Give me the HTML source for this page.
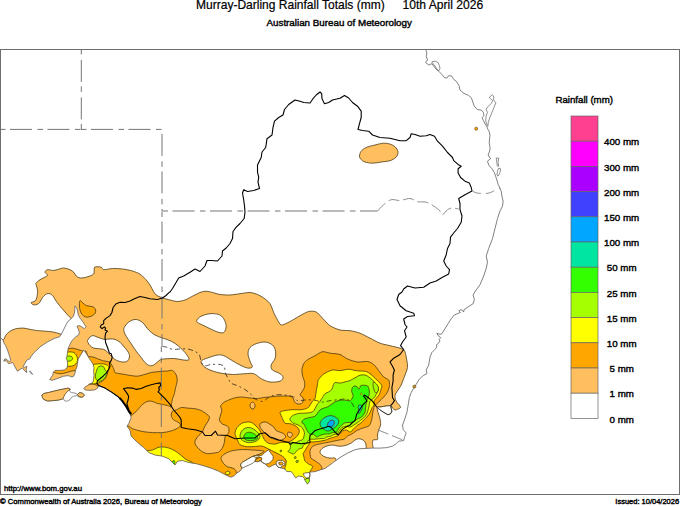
<!DOCTYPE html>
<html lang="en"><head><meta charset="utf-8"><title>Murray-Darling Rainfall Totals</title>
<style>
html,body{margin:0;padding:0;background:#fff;}
#map{position:relative;width:680px;height:506px;overflow:hidden;background:#fff;font-family:"Liberation Sans",Arial,Helvetica,sans-serif;color:#000;}
.t{position:absolute;white-space:nowrap;line-height:1.15;}
</style></head><body>
<div id="map">
<svg width="680" height="506" viewBox="0 0 680 506" style="position:absolute;left:0;top:0">
<defs><clipPath id="land"><path d="M-3,336.5 1.2,338.5 3.1,340 3.7,342.5 5.6,345.6 7.5,350 8.7,353.7 10,357.5 10.6,360.6 9.4,361.9 7.5,360 5,358.7 3.7,361.2 6.2,360.6 8.7,363.7 10.6,363.1 12.5,362.5 13.7,364.4 15.6,368.1 17.5,371.2 20,369.4 22.5,368.1 24.4,370.6 26.9,372.5 26.2,369.4 26.9,366.2 24.4,367.5 23.1,366.9 25,363.1 26.9,360 30,358.7 31.2,356.2 33.7,353.1 36.9,350 40,346.9 43.7,344.4 47.5,341.9 51.2,340 55,338.1 59.4,336.9 61.2,334.4 62.5,331.9 64.4,328.1 66.2,324.4 68.1,321.2 71.2,318.7 73.5,316 74.6,312 74.9,308.5 74.7,306.2 75.8,306.6 77.5,310 78.1,314.4 80,318.1 82.5,321.2 84.4,324.4 86.2,326.9 84.4,328.7 81.9,326.9 79.4,325.6 76.9,326.2 78.1,328.7 79.4,332.5 78.7,335 75.6,336.9 73.1,339.4 71.2,341.9 69.4,345.6 68.1,348.7 67.5,352.5 66.9,356.9 66,358.1 67.2,360 67.7,365 66.9,368.1 64.4,370 60,370.4 55,370.4 53.5,371.9 52.5,375.6 50.6,378.1 49.7,379.7 52.5,380.2 56.2,379 60,377.5 63.7,376.2 68.1,375.6 71.9,376.9 73.7,376.2 75,373.1 75.6,370 76.9,366.9 77.5,363.1 78.1,359.4 79.4,356.9 81,354.4 82.5,351.9 83.7,350 85.6,352.5 87.5,355.6 89.4,358.7 91.2,361.2 93.1,364.4 94,367.5 93.7,371.2 94,375 93.7,378.7 93.1,381.9 91.9,383.1 90,383.7 87.5,385.6 85,387.2 83.7,388.7 85.6,390 90,390.2 94.4,390 96.9,388.7 98.1,386.9 98.7,385.6 105,388.1 111.2,391.9 117.5,396.2 122.5,401.2 126.2,406.5 129,411.5 131.2,417.5 128.7,423.7 127,426.2 130,430 131.2,436.2 137.5,442.5 143.7,447.5 148.7,452.5 155,455 162.5,456.2 168.7,458.7 172.5,462.5 175,465 177.5,461.2 182.5,460.5 188.7,462.5 196.2,463.7 205,466.2 212.5,468.7 218.7,471.2 225,474.5 230,477 231.6,477 233.9,475.9 236.9,472.9 239.9,471.1 242.2,468.1 245.8,466.4 249.3,464.9 252.3,463.4 254.1,461.8 255.3,461.5 257.6,461.8 260.6,460.7 261.4,461.9 263.1,462.9 265.6,464.1 266.9,466 269.4,467.2 272.5,465.4 275.6,464.1 276.2,464.7 278.1,467.2 281.2,467.9 285,469.1 286.9,471.6 291.2,471.6 293.7,474.7 295.6,477.9 298.7,476 302.5,476.6 304.4,478.5 305,480.4 307.5,484.1 309.4,481.6 309.4,478.5 310,474.1 309.4,472.2 315,471.6 320,470 325,468.5 332.5,463 340,457.5 347.5,453.1 355,449.7 360,448.7 366.2,448.4 372.5,448.1 380,448.1 386.2,447.7 392.5,446.2 396.2,443.7 398.7,441.2 403.7,440.6 404.4,437.5 406.2,433.1 403.1,429.4 402.5,425 404.4,420 406.9,412.5 408,406 409.4,397.5 411.2,392.5 413.7,388.1 416.2,384.4 418.7,380 423.1,375.6 426.9,373.7 426.2,370 428.7,365 430,357 431.9,352.5 435,349.4 436.9,346.9 436.2,345 438.1,343.7 439,342 440,341.2 439.2,339.5 440.6,337.5 438.1,335.6 436.9,333.1 440,334.4 441.9,333.7 445,328.7 448.1,323.7 451.2,318.7 454.4,315 458.7,313.1 460.5,312.5 458.8,311 460,309.8 462.5,310.2 463.5,312 464.4,309.4 468.1,306.9 473.1,303.7 474.4,299.4 473.1,295 474.8,292 476.2,290 480,284.7 483.7,276 486.2,268.5 487.5,262.2 486.2,256 488.7,248.5 492.5,238.5 495,228.5 497.5,218.5 500,211 502.5,206.2 503.1,201.2 501.9,196.2 501.2,191.2 500,188.1 498.1,184.4 496.9,180 495.6,176.2 494.4,172.5 491.9,168.7 488.7,165 487.5,161.2 490.6,158.7 488.1,155 490,150 490,147.5 489.2,142.5 490,135 489,131 487.9,129.4 487,126.8 485.2,124.1 483.4,120.6 482.1,117.9 483.9,115.7 483.4,112.6 481.7,110.3 477.2,109.4 474.1,105.9 472.8,101.9 471.4,97.9 468.3,95.2 463.9,93.4 459.9,89.9 459,85.5 456.2,81.2 453.7,79.4 451.9,76.2 448.7,75.6 446.9,78.1 444.4,77.5 441.9,74.4 438.7,71.2 436.2,69.4 433.7,66.2 431.9,63.7 428.7,65 425.6,62.5 427.5,60 426.2,56.2 426.9,53.1 425.6,49 425.6,40 -10,40 -10,336.5Z"/></clipPath>
<clipPath id="frame"><rect x="0" y="49" width="680" height="446"/></clipPath></defs>
<g clip-path="url(#frame)">
<g clip-path="url(#land)" stroke="#4a3a10" stroke-width="0.8" stroke-linejoin="round">
<path d="M36.2,283C36.7,282.4 38.5,280.7 40,279.7C41.5,278.7 46.8,276.5 47.5,275.5C48.2,274.5 45,273 45,272.2C45,271.4 46.3,269.9 47.5,269.7C48.7,269.5 52.2,270.6 53.7,270.5C55.2,270.4 57.4,269.5 58.7,269.2C60,268.9 62.2,267.9 63.7,268C65.2,268.1 68.7,269.1 70,269.7C71.3,270.3 72.9,271.4 73.7,272.2C74.5,273 75.4,275.2 76.2,276C77,276.8 78.7,277.8 80,278C81.3,278.2 84.4,277.7 86.2,277.2C88,276.7 92.6,275.3 93.7,274C94.8,272.7 93.6,268.1 94.6,267.2C95.6,266.3 100,266.9 101.2,267.2C102.4,267.5 102.2,269.5 103.7,269.7C105.2,269.9 110,268.6 112.5,268.5C115,268.4 119.8,268.7 122.5,269C125.2,269.3 130.2,270.3 132.5,271C134.8,271.7 138.2,273 140,274.2C141.8,275.4 144.7,278.3 146,279.7C147.3,281.1 149,283.4 150,285C151,286.6 152.7,290.2 153.5,291.5C154.3,292.8 155,294.1 156.2,295C157.4,295.9 160.7,297.3 162.5,298C164.3,298.7 168,299.5 170,300C172,300.5 175.5,301.5 177.5,301.5C179.5,301.5 183,300.7 185,300C187,299.3 190.5,297.2 192.5,296.2C194.5,295.2 198.2,293.2 200,292.5C201.8,291.8 204.5,291.2 206.2,291.2C207.9,291.2 210.7,292.1 212.5,292.5C214.3,292.9 217.7,294.2 220,294.5C222.3,294.8 227.3,295.1 230,295C232.7,294.9 237.3,294 240,293.7C242.7,293.4 247.7,292.4 250,292.5C252.3,292.6 255.7,293.8 257.5,294.5C259.3,295.2 262,296.8 263.7,298C265.4,299.2 268.7,301.8 270,303.7C271.3,305.6 272.7,310.3 273.7,312.5C274.7,314.7 276.5,318.3 277.5,320C278.5,321.7 279.9,324.6 281.2,325C282.5,325.4 285.7,323.6 287.5,322.8C289.3,322 293.3,319.6 295,318.7C296.7,317.8 298.2,316.7 300,315.7C301.8,314.7 306.5,312 308.7,311.5C310.9,311 314.4,311.1 316.2,312C318,312.9 320.7,316.4 322.5,318.2C324.3,320 327.7,324.1 330,325.7C332.3,327.3 337.3,329.3 340,330C342.7,330.7 347.3,330.3 350,330.7C352.7,331.1 357.3,332.2 360,333.2C362.7,334.2 367.3,336.9 370,338.2C372.7,339.5 377.3,342.2 380,343.2C382.7,344.2 387.3,345 390,345.7C392.7,346.4 398.1,347.5 400,348.2C401.9,348.9 403.7,349.5 404.5,350.7C405.3,351.9 405.8,355.1 406.2,357C406.6,358.9 407.4,363.3 407.5,365C407.6,366.7 407.2,368.7 406.9,370C406.6,371.3 405.5,373.7 405,375C404.5,376.3 403.6,378.7 403.1,380C402.6,381.3 401.9,383.7 401.2,385C400.5,386.3 398.8,388.8 398.1,390C397.4,391.2 396,392.7 395.6,393.7C395.2,394.7 394.9,396.5 395,397.5C395.1,398.5 395.7,400.3 396.2,401.2C396.7,402.1 398.1,403.6 398.7,404.4C399.3,405.2 400.8,406.8 400.6,407.5C400.4,408.2 398.2,409 397.5,409.3C396.8,409.6 395.7,410.2 395,410C394.3,409.8 393,408.6 392.5,408.1C392,407.6 392,406.3 391.2,406C390.4,405.7 387.5,405.9 386.2,406C384.9,406.1 382.4,406.7 381.2,406.9C380,407.1 377.6,406.8 377.2,407.5C376.8,408.2 377.7,411 378.1,412.5C378.5,414 379.7,417 380,418.7C380.3,420.4 380.8,423.5 380.6,425C380.4,426.5 379.1,428.7 378.7,430C378.3,431.3 377.7,433.7 377.5,435C377.3,436.3 378.1,438.7 377.5,439.4C376.9,440.1 373.8,439.4 373.1,440C372.4,440.6 372.5,442.6 372.5,443.7C372.5,444.8 373,445.9 373.1,448.1C373.2,450.3 382.7,453.7 373,460C363.3,466.3 336.4,492.3 300,495C263.6,497.7 134,494.9 100,480C66,465.1 52.3,398.2 45,383C37.7,367.8 43,370.4 45,366C47,361.6 57.2,353.7 60,350C62.8,346.3 64.7,341.2 66,338C67.3,334.8 69.3,328.6 70,326C70.7,323.4 71.4,320 71.2,318.7C71,317.4 69.5,317.1 68.7,316.2C67.9,315.3 66.1,313.1 65,311.9C63.9,310.7 61.8,308.3 60.6,306.9C59.4,305.5 57.2,302.6 56.2,301.2C55.2,299.8 53.9,297.2 53.1,296.2C52.3,295.2 50.9,294 50,293.7C49.1,293.4 47.2,293.5 46.2,294C45.2,294.5 43.3,296.6 42.5,297.5C41.7,298.4 41,300.2 40.5,301C40,301.8 39.3,303.1 38.6,303.6C37.9,304.1 36.2,304.7 35.5,304.8C34.8,304.9 33.6,304.9 33,304.6C32.4,304.3 30.8,303.2 31,302.7C31.2,302.2 34,301.8 34.8,301.2C35.6,300.6 36.3,299.4 36.7,298C37.1,296.6 37.7,292.3 37.6,290.5C37.5,288.7 36.3,285.5 36.1,284.5C35.9,283.5 35.7,283.6 36.2,283Z" fill="#ffbf5f"/>
<path d="M-5,338C-3.9,333.2 1.7,340.3 3.1,340C4.5,339.7 4.7,336.8 5.6,335.6C6.5,334.4 8.6,332.1 10,331.2C11.4,330.3 14.4,329.1 16.2,328.7C18,328.3 21.9,328 23.7,328.1C25.5,328.2 28.2,329.1 30,329.4C31.8,329.7 35.5,330.4 37.5,330.6C39.5,330.8 43,331 45,331.2C47,331.4 50.8,331.6 52.5,331.9C54.2,332.2 56.3,332.8 57.5,333.1C58.7,333.4 59.5,333.5 61.2,334.4C62.9,335.3 72.8,333.7 70,340C67.2,346.3 50,377.2 40,382C30,386.8 1,381.9 -5,376C-11,370.1 -6.1,342.8 -5,338Z" fill="#ffbf5f"/>
<path d="M359.5,156.2C359.5,154.8 360.1,152.6 361.2,151.2C362.3,149.8 363.9,148.5 366.2,147.5C368.5,146.5 372.1,145.7 375,145C377.9,144.3 381,143.3 383.7,143.2C386.4,143.1 389.1,143.7 391.2,144.5C393.3,145.3 395.1,146.7 396.2,148C397.3,149.3 398,151 398,152.5C398,154 397.5,155.6 396.2,157C394.9,158.4 392.5,159.9 390,160.7C387.5,161.5 384.1,161.6 381.2,162C378.3,162.4 375.2,163.2 372.5,163.2C369.8,163.2 366.9,162.6 365,162C363.1,161.4 362.1,160.5 361.2,159.5C360.3,158.5 359.5,157.6 359.5,156.2Z" fill="#ffbf5f"/>
<path d="M87.5,340.7C87.8,339.7 89.1,337.9 90,337C90.9,336.1 91.9,335.6 93.1,335.6C94.2,335.6 95.6,336.4 96.9,336.9C98.2,337.4 99.9,338.1 101.2,338.5C102.5,338.9 103.5,339.3 105,339.4C106.5,339.5 108.3,338.9 110,338.9C111.7,338.9 113.3,338.8 115,339.4C116.7,339.9 118.6,341.1 120,342.2C121.4,343.3 122.2,344.7 123.5,346.2C124.8,347.7 126.5,349.4 127.5,351C128.5,352.6 129.4,354.1 129.5,355.7C129.6,357.3 129,359.6 127.8,360.7C126.6,361.8 124.6,362.2 122.5,362C120.4,361.8 117.1,360.8 115,359.5C112.9,358.2 111.5,355.9 110,354.5C108.5,353.1 107.2,351.9 106.2,351C105.2,350.1 105,349.8 103.7,349.4C102.5,349 100.4,348.9 98.7,348.7C97,348.5 95.2,348.6 93.7,348.1C92.2,347.6 90.9,346.5 90,345.6C89.1,344.7 88.5,343.6 88.1,342.8C87.7,342 87.2,341.7 87.5,340.7Z" fill="#ffffff"/>
<path d="M125,326.2C126,324.6 128.1,322.3 130,321.2C131.9,320.1 134.1,319.3 136.2,319.5C138.3,319.7 140.4,320.8 142.5,322.5C144.6,324.2 146.6,327.9 148.7,330C150.8,332.1 152.7,333.7 155,335C157.3,336.3 159.8,337 162.5,338C165.2,339 168.5,339.8 171.2,341.2C173.9,342.6 176.4,344.3 178.7,346.2C181,348.1 183.3,350.5 185,352.5C186.7,354.5 188.3,357.1 188.9,358.3C189.5,359.6 189,359.7 188.3,360C187.7,360.3 186.4,360.3 185,360.2C183.6,360.1 181.9,359.7 180,359.4C178.1,359.1 175.8,358.6 173.7,358.5C171.6,358.4 169.6,358.6 167.5,358.7C165.4,358.8 162.9,358.9 161.2,359.4C159.5,359.9 158.8,361 157.5,361.9C156.2,362.8 155,364.4 153.7,365C152.3,365.6 150.8,366 149.4,365.6C148,365.2 146.4,363.9 145,362.5C143.6,361.1 142.7,359.4 141.2,357.5C139.7,355.6 137.9,353.5 136.2,351.2C134.5,348.9 132.9,346.2 131.2,343.7C129.5,341.2 127.4,338.4 126.2,336.2C125,334 124,332.2 123.8,330.5C123.6,328.8 124,327.8 125,326.2Z" fill="#ffffff"/>
<path d="M197,320C197.6,318.9 199,317.2 201.2,316.2C203.4,315.1 207.1,314 210,313.7C212.9,313.4 216.4,313.7 218.7,314.5C221,315.3 222.4,316.8 223.7,318.7C224.9,320.6 226.2,323.9 226.2,326.2C226.2,328.5 225.1,331.5 223.7,332.5C222.2,333.5 219.8,332.6 217.5,332C215.2,331.4 212.5,329.9 210,328.7C207.5,327.5 204.6,326 202.5,325C200.4,324 198.4,323.3 197.5,322.5C196.6,321.7 196.4,321.1 197,320Z" fill="#ffffff"/>
<path d="M201.2,361.2C201.8,359.8 204.8,359 207.5,358C210.2,357 214.8,355.4 217.5,355C220.2,354.6 221.4,354.9 223.7,355.7C226,356.5 228.5,358.4 231.2,360C233.9,361.6 237.3,363.7 240,365C242.7,366.3 245.4,367.7 247.5,368C249.6,368.3 251.9,368.1 252.3,367C252.7,365.9 250.7,363.4 250,361.2C249.3,359 248,356 248,353.7C248,351.4 248.6,349.2 250,347.5C251.4,345.8 253.7,344.6 256.2,343.7C258.7,342.8 262.3,341.8 265,342C267.7,342.2 270.8,343.5 272.5,345C274.2,346.5 275.1,348.9 275.5,351.2C275.9,353.5 275.7,356.4 275,358.7C274.3,361 271.6,363.1 271.2,365C270.8,366.9 271,368.6 272.5,370C274,371.4 278.2,372.4 280,373.7C281.8,374.9 283,376.2 283,377.5C283,378.8 282.2,380.4 280,381.2C277.8,381.9 273.1,382.4 270,382C266.9,381.6 263.9,380.1 261.2,378.7C258.5,377.3 256.4,374.5 253.7,373.7C251,372.9 248.5,373.6 245,373.7C241.5,373.8 236.7,374.6 232.5,374.5C228.3,374.4 223.8,373.8 220,373C216.2,372.2 212.7,371.1 210,370C207.3,368.9 205.2,367.7 203.7,366.2C202.2,364.7 200.6,362.6 201.2,361.2Z" fill="#ffffff"/>
<path d="M320,451.9C320,450.8 320.9,449.6 321.9,448.7C322.9,447.8 324.4,446.8 326.2,446.2C328,445.6 330.4,445 332.5,445C334.6,445 336.6,446.1 338.7,446.2C340.8,446.3 342.9,446.1 345,445.6C347.1,445.1 349.5,444 351.2,443.1C352.9,442.2 353.8,440.7 355,440C356.2,439.3 357.3,438.7 358.7,438.7C360.1,438.7 362,439.3 363.1,440C364.2,440.7 365.1,441.8 365.6,443.1C366.1,444.5 366.1,446.1 366.2,448.1C366.3,450.1 370.4,452.7 366,455C361.6,457.3 345.2,461.5 340,462C334.8,462.5 336.7,458.8 335,458.1C333.3,457.5 331.7,458.3 330,458.1C328.3,457.9 326.4,457.4 325,456.9C323.6,456.4 322.7,455.8 321.9,455C321.1,454.2 320,452.9 320,451.9Z" fill="#ffffff"/>
<path d="M376.9,407.2C376.7,407.5 378.7,408.9 379.4,409.4C380.1,409.9 381.2,410.7 381.9,411.2C382.6,411.7 384.2,412.6 385,413.1C385.8,413.6 387.4,414.6 388.1,414.7C388.8,414.8 390.1,414.2 390.6,413.7C391.1,413.2 391.8,411.9 391.9,411.2C392,410.5 391.3,409.4 391.2,408.7C391.1,408 391.6,406.4 390.9,406C390.2,405.6 387.5,405.9 386.2,406C384.9,406.1 382.4,406.7 381.2,406.9C380,407.1 377.1,406.9 376.9,407.2Z" fill="#ffffff"/>
<path d="M80,300.6C79.4,300.7 79.5,302.4 79.4,303.7C79.4,305 79.4,307.1 79.7,308.7C80,310.3 80.5,311.9 81.2,313.1C81.9,314.3 82.7,315.3 83.7,316C84.8,316.7 86,317.3 87.5,317.2C89,317.1 91.2,316.3 92.5,315.6C93.8,314.9 94.7,314 95.2,313.1C95.7,312.2 95.8,311 95.6,310C95.3,309 94.6,307.8 93.7,307.2C92.8,306.6 91.2,306.5 90,306.2C88.8,305.9 87.4,306.1 86.2,305.6C85,305.1 84.1,303.9 83.1,303.1C82.1,302.3 80.6,300.5 80,300.6Z" fill="#ffa600"/>
<path d="M60,346C61.3,344.2 66.5,348.4 68.1,348.7C69.7,349 70.8,348.1 71.9,348.1C73,348.1 75.2,348.7 76.2,349C77.2,349.3 78.5,349.7 79.4,350C80.3,350.3 82.3,350.5 83,351.3C83.7,352.1 85.4,353.2 85,356C84.6,358.8 81.3,370.1 80,372C78.7,373.9 76.2,370.7 75,370.6C73.8,370.5 72.4,370.9 71.2,371.2C70,371.5 67.5,372.4 66.2,372.7C64.9,373 62.5,373.6 61.2,373.7C59.9,373.8 57.2,373.3 56.2,373.1C55.2,372.9 54.3,372.3 53.5,371.9C52.7,371.5 49.4,371.3 50,370C50.6,368.7 56.7,365.2 58,362C59.3,358.8 58.7,347.8 60,346Z" fill="#ffa600"/>
<path d="M85,352C86.1,348.2 87.1,355.5 88.1,356.2C89.1,356.9 91.2,356.6 92.5,356.9C93.8,357.2 96.2,358.2 97.5,358.7C98.8,359.2 101.2,360.2 102.5,360.6C103.8,361 106.5,361.3 107.5,361.5C108.5,361.7 109.2,361.6 109.7,361.9C110.2,362.2 110.7,363.1 111.2,364C111.7,364.9 113.2,367.6 113.7,368.7C114.2,369.8 114.2,371.8 115,372.5C115.8,373.2 118.7,373.4 120,373.7C121.3,374 123.5,374.2 125,374.5C126.5,374.8 129.5,375.4 131.2,375.6C132.9,375.8 135.7,376.4 137.5,376.2C139.3,376 143.2,374.9 145,374.4C146.8,373.9 149.2,372.9 151.2,372.5C153.2,372.1 157.8,371.7 160,371.5C162.2,371.3 165.8,371.1 167.5,371C169.2,370.9 171.3,370 172.5,370.5C173.7,371 175.6,373.6 176.2,375C176.8,376.4 177.3,379.5 177.2,381.2C177.1,382.9 176,385.8 175.6,387.5C175.2,389.2 174.8,392.2 174.4,393.7C174,395.2 172.9,397.4 172.5,398.7C172.1,400 171.7,402.6 171.5,403.7C171.3,404.8 171.7,406.6 171.2,406.9C170.7,407.2 168.7,405.9 167.5,405.6C166.3,405.3 163.8,404.7 162.5,404.4C161.2,404.1 158.7,403.8 157.5,403.5C156.3,403.2 154.7,402.2 153.7,401.9C152.7,401.6 151,401 150,401C149,401 147.2,401.4 146.2,401.9C145.2,402.4 143.5,403.5 142.5,404.4C141.5,405.3 139.7,407.6 138.7,408.7C137.7,409.8 136,411.6 135,412.5C134,413.4 132.1,414.9 131.2,415.6C130.3,416.3 129.8,418.7 128,418C126.2,417.3 122.4,413.1 118,410C113.6,406.9 100.1,398.3 95,395C89.9,391.7 81.3,390.7 80,385C78.7,379.3 83.9,355.8 85,352Z" fill="#ffa600"/>
<path d="M80,386C80.9,384.9 83.7,385.8 85,385.6C86.3,385.4 88.8,384.5 90,384.3C91.2,384.1 93,384 94,384.2C95,384.4 96.7,385.3 97.5,385.8C98.3,386.3 99.7,386.9 100,388C100.3,389.1 102.9,393.2 100,394C97.1,394.8 80.7,395.1 78,394C75.3,392.9 79.1,387.1 80,386Z" fill="#ffbf5f"/>
<path d="M128.7,426.2C130,426 130.8,428 132,428.5C133.2,429 135.8,429.8 137.5,430.3C139.2,430.8 142.7,431.6 145,431.9C147.3,432.2 152.3,432.6 155,432.7C157.7,432.8 162.7,432.6 165,432.3C167.3,432 170.7,431.1 172.5,430.5C174.3,429.9 177.7,428.2 178.7,427.5C179.7,426.8 180.1,426 180.3,425.5C180.5,425 180.4,424.2 180,423.7C179.6,423.2 178.3,422.4 177.5,421.9C176.7,421.4 174.4,420.6 173.7,420C173,419.4 172.2,418.2 171.9,417.5C171.6,416.8 171.1,415.8 171.2,415C171.3,414.2 171.7,411.9 172.5,411.2C173.3,410.5 176.3,409.9 177.5,409.4C178.7,408.9 179.9,407.7 181.2,407.5C182.5,407.3 185.7,407.9 187.5,408.1C189.3,408.3 193.2,408.4 195,408.7C196.8,409 199.7,409.9 201.2,410.6C202.7,411.3 205.1,412.9 206.2,413.7C207.3,414.5 209.1,415.9 209.4,416.9C209.7,417.9 208.6,420.1 208.1,421.2C207.6,422.3 206.2,424 205.6,425C205,426 204.1,427.8 203.7,428.7C203.3,429.6 202.9,431.2 202.5,431.9C202.1,432.6 201.3,433 200.6,433.7C199.9,434.4 198.2,435.9 197.5,436.9C196.8,437.9 195.3,440.1 195,441.2C194.7,442.3 195.1,444 195.6,445C196.1,446 197.8,447.8 198.7,448.7C199.6,449.6 201.3,451.2 202.5,451.9C203.7,452.6 206.1,453.5 207.5,453.7C208.9,453.9 211.5,453.4 213,453.2C214.5,453 217.5,452.6 218.7,452C219.9,451.4 221.2,449.6 221.9,448.7C222.6,447.8 223.3,446.2 223.7,445C224.1,443.8 224.5,441.1 224.7,440C224.9,438.9 224.5,437.9 225,436.9C225.5,435.9 228.2,433.8 228.7,432.5C229.2,431.2 229,428.4 228.7,427.5C228.4,426.6 227.1,426.1 226.2,425.6C225.3,425.1 222.8,424.4 221.9,423.7C221,423 219.6,421.2 219.4,420C219.2,418.8 220.3,416.3 220.6,415C220.9,413.7 221.9,411.2 221.9,410C221.9,408.8 220.4,407.2 220.6,406.2C220.8,405.2 222.6,403.3 223.7,402.5C224.8,401.7 227.2,400.6 228.7,400C230.2,399.4 233.3,398.2 235,397.8C236.7,397.4 239.2,397 241.2,397C243.2,397 247.8,397.8 250,398C252.2,398.2 255.6,398.6 257.5,398.5C259.4,398.4 262.3,397.7 264,397.5C265.7,397.3 268.4,397.1 270,396.9C271.6,396.7 274.4,396.3 276.2,396.2C278,396.1 281.9,396 283.7,396C285.5,396 288.7,395.9 290,396.2C291.3,396.5 292.7,397.8 293.3,398.5C293.9,399.2 293.8,401 294.3,401.7C294.8,402.4 296,403.4 296.8,403.7C297.6,404 299.2,404.2 300,404.1C300.8,404 302.1,403.2 302.6,402.6C303.1,402 303.4,400.2 303.4,399.5C303.4,398.8 303,397.6 302.5,397C302,396.4 300.1,395.7 300,395C299.9,394.3 301.3,392.9 301.9,391.9C302.5,390.9 304,388.8 304.4,387.5C304.8,386.2 304.9,384 304.7,382.5C304.5,381 303.1,377.9 302.7,376.2C302.3,374.5 301.8,371.7 301.9,370C302,368.3 303,365.1 303.7,363.7C304.4,362.3 306,360.9 307.5,359.8C309,358.7 313,356.8 315,355.7C317,354.6 320.5,352 322.5,351.7C324.5,351.4 327.7,352.8 330,353.2C332.3,353.6 337.7,353.7 340,354.5C342.3,355.3 345.2,358 347.5,359C349.8,360 354.8,361.7 357.5,362C360.2,362.3 365.3,361.2 367.5,361.5C369.7,361.8 372.2,363.3 373.7,364.5C375.2,365.7 377.4,369 378.7,370.7C380,372.4 382.4,375.8 383.7,377C385,378.2 387.9,378.8 388.7,380C389.5,381.2 389.7,384.1 389.5,385.7C389.3,387.3 388.3,390.5 387.5,392C386.7,393.5 384.9,395.7 383.7,397C382.5,398.3 379.9,400.8 378.7,402C377.5,403.2 375.3,405 374.6,405.9C373.9,406.8 373.9,408 373.6,408.9C373.3,409.8 372.9,411.9 372.7,413C372.5,414.1 372.3,416.2 372.1,417.2C371.9,418.2 371.8,419.7 371.5,420.7C371.2,421.7 370.1,424.2 369.7,424.9C369.3,425.6 369.1,425.8 368.5,426.1C367.9,426.4 366.4,427 365.5,427.3C364.6,427.6 362.8,428 362,428.3C361.2,428.6 360,429.2 359.3,429.5C358.6,429.8 357.2,430.2 356.4,430.7C355.6,431.2 354.2,432.5 353.4,433C352.6,433.5 351.2,434.4 350.4,434.8C349.6,435.2 348.1,435.6 347.5,436C346.9,436.4 346.2,437.4 345.7,437.8C345.2,438.2 344.7,439 343.9,439.3C343.1,439.6 340.9,439.7 339.8,439.9C338.7,440.1 337.1,440.5 336,440.7C334.9,440.9 333,441.3 331.6,441.6C330.2,441.9 327.2,442.5 325.6,442.8C324,443.1 321,443.7 319.7,444C318.4,444.3 316.5,444.6 315.6,444.9C314.7,445.2 313.2,445.9 312.6,446.4C312,446.9 311.2,448 310.8,448.7C310.4,449.4 310,450.9 309.9,451.7C309.8,452.5 310.1,453.9 310.2,454.7C310.3,455.5 310.3,457.2 310.8,457.9C311.3,458.6 312.8,459.4 313.7,460C314.6,460.6 316.6,461.8 317.5,462.5C318.4,463.2 320,464.2 320.6,465C321.2,465.8 321.7,466.7 321.9,468.7C322.1,470.7 324.9,476.5 322,480C319.1,483.5 316.3,493.7 300,495C283.7,496.3 224,496 200,490C176,484 130.4,458 120,450C109.6,442 120.8,433.2 122,430C123.2,426.8 127.4,426.4 128.7,426.2Z" fill="#ffa600"/>
<path d="M221.2,457.5C221.7,456.2 223.1,454.8 225,453.7C226.9,452.6 229.6,451.4 232.5,450.7C235.4,450 239.2,449.6 242.5,449.5C245.8,449.4 249.2,449.8 252.5,450C255.8,450.2 260.6,450.4 262.5,450.8C264.4,451.2 264,451.6 263.6,452.1C263.2,452.6 261.3,453.3 260,453.9C258.7,454.4 257.3,454.9 255.9,455.4C254.5,455.9 253.1,456.2 251.7,456.9C250.3,457.5 248.9,458.6 247.6,459.3C246.3,460 245.1,460.6 244,461.3C242.9,462 241.9,462.6 241.3,463.4C240.8,464.1 240.5,465 240.7,465.8C240.8,466.6 242.1,467.1 242.2,468.1C242.3,469.1 242.3,471 241.5,472C240.7,473 238.5,474.2 237.5,474C236.5,473.8 236.3,471.4 235.7,470.5C235.1,469.6 234.7,469.2 233.9,468.7C233.1,468.2 232,467.9 231,467.6C230,467.3 229,467.4 228,467C227,466.6 226,466 225,465C224,464 222.6,462.4 222,461.2C221.4,459.9 220.7,458.8 221.2,457.5Z" fill="#ffbf5f"/>
<path d="M252.5,402C253.2,401.9 254.1,402.8 254.5,403.5C254.9,404.2 255.1,405.2 255,406C254.9,406.8 254.5,408 254,408.5C253.5,409 252.6,409.2 252,409C251.4,408.8 250.6,407.8 250.3,407C250,406.2 249.8,404.8 250.2,404C250.6,403.2 251.8,402.1 252.5,402Z" fill="#ffbf5f"/>
<path d="M260,424C260.3,423.2 261,422.8 262,422.5C263,422.2 264.7,421.7 266,422C267.3,422.3 268.7,423.6 270,424.4C271.3,425.2 272.7,425.9 273.7,426.9C274.7,427.9 274.9,429.7 276.2,430.6C277.4,431.5 279.8,431.9 281.2,432.5C282.6,433.1 283.7,433.6 284.4,434.4C285.1,435.1 285.7,436.1 285.5,437C285.3,437.9 284.1,438.9 283,439.5C281.9,440.1 280.3,440.3 279,440.3C277.7,440.3 276.5,439.8 275,439.3C273.5,438.8 271.5,438.4 270,437.5C268.5,436.6 267.3,435.2 266,434C264.7,432.8 263,431.2 262,430C261,428.8 260.3,428 260,427C259.7,426 259.7,424.8 260,424Z" fill="#ffbf5f"/>
<path d="M288,432.3C288.5,431.9 290.9,432.4 291.5,432.8C292.1,433.2 292.7,434.4 292.5,435C292.3,435.6 290.7,437.4 290,437.5C289.3,437.6 287.8,436.2 287.5,435.5C287.2,434.8 287.5,432.7 288,432.3Z" fill="#ffbf5f"/>
<path d="M242.2,468.1C242,467.4 240.8,466.4 240.7,465.8C240.6,465.2 240.9,464 241.3,463.4C241.7,462.8 243.2,461.8 244,461.3C244.8,460.8 246.6,459.9 247.6,459.3C248.6,458.7 250.6,457.4 251.7,456.9C252.8,456.4 255.1,455.6 255.9,455.4C256.7,455.2 257.9,455.3 258,455.6C258.1,455.9 256.8,457 256.5,457.5C256.2,458 255.7,459.1 255.5,459.6C255.3,460.1 255.2,460.4 255.3,461C255.4,461.6 256.4,462.9 256,464C255.6,465.1 253.5,467.7 252,469C250.5,470.3 246.3,473.7 245,474C243.7,474.3 242.4,471.8 242,471C241.6,470.2 242.4,468.8 242.2,468.1Z" fill="#ffffff"/>
<path d="M255.3,460.9C255.4,460.6 255.4,460 255.9,459.6C256.4,459.2 258,458.1 258.8,457.8C259.6,457.5 261.3,457.1 261.8,457.2C262.3,457.3 262.6,458.3 262.4,458.7C262.2,459.1 261.2,460 260.6,460.4C260,460.8 258.3,461.6 257.6,461.7C256.9,461.8 255.8,461.6 255.5,461.5C255.2,461.4 255.2,461.2 255.3,460.9Z" fill="#ffa600"/>
<path d="M66,353.1C67.3,351.8 68.7,352 70,351.9C71.3,351.8 72.7,352 73.7,352.5C74.7,353 75.6,354 76.2,355C76.8,356 77.4,357.4 77.5,358.7C77.6,359.9 77.4,361.4 76.9,362.5C76.4,363.6 75.4,364.4 74.4,365C73.5,365.6 72.6,366.1 71.2,366.2C69.8,366.3 67.5,366.6 66,365.6C64.5,364.6 62,362.1 62,360C62,357.9 64.7,354.5 66,353.1Z" fill="#ffff00"/>
<path d="M91,366C91.6,364.2 92.7,364.9 93.8,364.5C94.9,364.1 96,364 97.6,363.9C99.2,363.8 102,363.7 103.6,363.9C105.2,364.1 106.2,364.5 107.1,365.1C108,365.7 108.8,366.4 108.9,367.4C109.1,368.4 108.3,369.8 108,371C107.7,372.2 107.5,373.4 107.1,374.6C106.6,375.8 106.1,377 105.3,378.1C104.5,379.2 103.5,380.3 102.4,381.1C101.3,381.9 99.9,382.5 98.8,382.9C97.7,383.3 97.2,383.6 95.9,383.6C94.6,383.6 92,384.4 91,383C90,381.6 90,377.8 90,375C90,372.2 90.4,367.8 91,366Z" fill="#ffff00"/>
<path d="M146.2,451.2C147.8,450.4 150.2,450.7 152.5,450C154.8,449.3 157.3,447.3 160,447C162.7,446.7 165.8,447.1 168.7,448C171.6,448.9 174.8,450.7 177.5,452.5C180.2,454.3 182.3,456.8 185,458.7C187.7,460.6 192.2,461.8 193.7,463.7C195.2,465.6 201.3,469.8 194,470C186.7,470.2 158.5,467.5 150,465C141.5,462.5 143.6,457.3 143,455C142.4,452.7 144.6,452 146.2,451.2Z" fill="#ffff00"/>
<path d="M225.3,472.8C225.4,472.2 226.8,471.4 227.5,471.3C228.2,471.2 229.5,471.6 229.8,472C230.1,472.4 230,473.6 229.5,474C229,474.4 227.7,474.8 227,474.6C226.3,474.4 225.2,473.4 225.3,472.8Z" fill="#ffff00"/>
<path d="M235,433.7C234.9,432 236,428.9 237,427.5C238,426.1 240.8,423.7 242.5,423C244.2,422.3 248.3,421.7 250,422C251.7,422.3 253.7,423.9 255,425C256.3,426.1 258.6,428.7 259.5,430C260.4,431.3 261.3,433.4 261.8,434.5C262.3,435.6 263,437.1 263.5,438C264,438.9 264.6,440.3 265.3,441C266,441.7 267.4,442.9 268.7,443.3C270,443.7 273.3,444.2 275,444.1C276.7,444 279.7,442.4 281.2,442.2C282.7,442 284.9,442.6 286.2,442.5C287.5,442.4 289.5,441.7 290.6,441.2C291.7,440.7 293.5,439.4 294.4,438.7C295.3,438 296.8,436.5 297.5,435.6C298.2,434.7 299.3,432.9 299.4,431.9C299.5,430.9 298.7,428.9 298.1,428.1C297.5,427.3 296.1,426.2 295,425.6C293.9,425 291.3,424 290,423.7C288.7,423.4 286,423.8 285,423.1C284,422.4 283.2,420.1 282.5,418.7C281.8,417.3 280.2,413.4 280,412.5C279.8,411.6 280.1,412 280.8,411.7C281.5,411.4 283.4,410.9 285,410.6C286.6,410.3 290.3,409.8 292.5,409.7C294.7,409.6 299.2,409.9 301.2,409.7C303.2,409.5 306.3,408.7 307.5,408.1C308.7,407.5 309.3,405.9 310,405C310.7,404.1 311.8,402 312.5,401.2C313.2,400.4 314.6,399.4 315,398.7C315.4,398 315.4,396.6 315.6,395.6C315.8,394.6 316,392.5 316.2,391.2C316.4,389.9 316.9,387.6 317.2,386.2C317.5,384.8 317.6,381.9 318.1,380.6C318.6,379.3 320.1,377.3 321.2,376.2C322.3,375.1 324.7,373.3 326.2,372.5C327.7,371.7 330.7,370.3 332.5,370C334.3,369.7 337.8,370.7 340,370.6C342.2,370.5 346.7,369.2 348.7,369.2C350.7,369.2 353.5,370.3 355,370.5C356.5,370.7 358.5,370.9 360,371C361.5,371.1 364.9,371.1 366.2,371.5C367.5,371.9 369,373 370,373.7C371,374.4 372.8,376.1 373.7,376.9C374.6,377.7 376.1,379.2 376.9,380C377.7,380.8 379.3,382.3 380,383.1C380.7,383.9 381.8,385.2 381.9,386.2C382,387.2 380.9,389.5 380.6,390.6C380.3,391.7 379.9,393.5 379.4,394.4C378.9,395.3 377.6,396.7 376.9,397.5C376.2,398.3 374.8,399.9 374.4,400.6C374,401.3 374.1,402.2 374,402.8C373.9,403.4 374.2,404.6 373.9,405.3C373.6,406 372.5,407 372.1,407.7C371.7,408.4 371.3,409.8 370.9,410.7C370.5,411.6 369.7,413.3 369.1,414.2C368.5,415.1 367.4,416.4 366.7,417.2C366,418 364.6,419.3 363.8,420.1C363,420.9 361.6,422.5 360.8,423.1C360,423.7 358.6,424.4 357.9,424.9C357.2,425.4 355.9,426.7 355.3,427.2C354.7,427.7 353.9,428.4 353.4,428.9C352.9,429.4 352.1,430.9 351.6,431.3C351.1,431.7 349.9,432.1 349.3,431.9C348.7,431.7 347.6,430.3 346.9,430.1C346.2,429.9 344.6,430.2 343.9,430.4C343.2,430.6 342.1,431.4 341.6,431.9C341.1,432.4 340.3,433.4 339.8,433.9C339.3,434.4 338.6,435.3 338,435.7C337.4,436.1 336.3,436.4 335.6,436.6C334.9,436.8 333.6,437.2 332.7,437.5C331.8,437.8 330,438.3 329.1,438.6C328.2,438.9 326.9,439.7 326,440C325.1,440.3 323.1,440.6 322,440.8C320.9,441 319.1,441.4 318,441.5C316.9,441.6 314.8,441.8 313.8,441.9C312.8,442 310.8,441.7 310.2,441.9C309.6,442.1 309.5,442.8 309.3,443.2C309.1,443.6 309,444.2 308.7,444.7C308.4,445.2 307.4,446.4 306.9,447.2C306.4,448 305.5,450.2 305,451C304.5,451.8 303.3,452.8 303.1,453.5C302.9,454.2 303.4,455 303.7,456C304,457 304.3,459.9 305,461C305.7,462.1 307.7,463.4 308.7,464.1C309.7,464.8 312.1,465.4 312.5,466C312.9,466.6 312.2,467.7 311.9,468.5C311.6,469.3 309.9,470.7 310,472.2C310.1,473.7 313.4,477.6 313,480C312.6,482.4 310.1,490 307,490C303.9,490 292.9,482.8 290,480C287.1,477.2 285.6,471 285,469.1C284.4,467.2 285.4,467.1 285.6,466C285.8,464.9 286.5,462.2 286.2,461C285.9,459.8 284.7,458.1 283.7,457.2C282.7,456.3 280,454.8 278.7,454.1C277.4,453.4 275,452.3 273.7,451.6C272.4,450.9 269.9,449.7 268.7,449.1C267.5,448.5 266,447.6 265,447.2C264,446.8 262.7,446.1 261.2,446C259.7,445.9 255.7,446.5 253.7,446.6C251.7,446.7 248,446.9 246.2,446.6C244.4,446.3 241.2,445.6 240,444.7C238.8,443.8 238.2,441.5 237.5,440C236.8,438.5 235.1,435.4 235,433.7Z" fill="#ffff00"/>
<path d="M65,356.9C65.7,356.2 68.2,356 69.4,356C70.6,356 71.4,356.4 71.9,356.9C72.4,357.3 72.6,358.1 72.5,358.7C72.4,359.3 71.8,360.2 71.2,360.6C70.6,361 69.7,361.3 68.7,361.2C67.7,361.1 65.6,360.7 65,360C64.4,359.3 64.3,357.6 65,356.9Z" fill="#a6ff00"/>
<path d="M98.8,366.6C99.5,366.2 100.9,365.9 101.8,366C102.7,366.1 103.5,366.7 104.1,367.4C104.7,368.1 104.8,369.7 105.3,370.4C105.8,371.1 106.4,371.2 106.8,371.6C107.2,372 107.6,372 107.4,372.8C107.2,373.6 106.5,375.2 105.9,376.3C105.3,377.4 104.5,378.5 103.6,379.3C102.7,380.1 101.5,380.8 100.6,381.1C99.7,381.4 98.8,381.3 98.2,381.1C97.6,380.9 97.1,380.4 96.7,379.9C96.3,379.4 95.8,378.9 95.6,378.1C95.4,377.3 95.2,376.2 95.3,375.1C95.4,374 96.1,372.7 96.4,371.6C96.7,370.5 96.9,369.4 97.3,368.6C97.7,367.8 98,367 98.8,366.6Z" fill="#a6ff00"/>
<path d="M240,436.2C240,434.4 241.1,431.4 242.5,430C243.9,428.6 246.6,427.5 248.7,427.5C250.8,427.5 253.1,428.6 255,430C256.9,431.4 259.8,434.3 260,436.2C260.2,438.1 258.1,440.1 256.2,441.2C254.3,442.2 251,442.6 248.7,442.5C246.4,442.4 243.9,441.6 242.5,440.5C241.1,439.4 240,437.9 240,436.2Z" fill="#a6ff00"/>
<path d="M355,377.8C353.7,378.5 351.3,380.1 350,380.6C348.7,381.1 346.3,381.6 345,381.9C343.7,382.2 341.3,383 340,383.1C338.7,383.2 335.9,382.2 335,382.5C334.1,382.8 333.5,384.7 333.1,385.6C332.7,386.5 332.5,388.6 331.9,389.4C331.3,390.2 329.6,391.3 328.7,391.9C327.8,392.5 325.8,393 325,393.7C324.2,394.4 323.2,396.5 322.5,397.5C321.8,398.5 320.7,400.2 320,401.2C319.3,402.2 317.6,404 316.9,405C316.2,406 315.6,407.8 315,408.7C314.4,409.6 313.7,411.3 312.5,411.9C311.3,412.5 308,412.9 306.2,413.1C304.4,413.3 300.4,413.2 298.7,413.5C297,413.8 294.8,414.5 293.7,415C292.6,415.5 291.1,416.8 290.6,417.5C290.1,418.2 289.7,419.3 290,420C290.3,420.7 292,422.4 293.1,423.1C294.2,423.8 296.8,424.3 298.1,425C299.4,425.7 301.7,427.1 302.5,428.1C303.3,429.1 304.2,431.3 304.4,432.5C304.6,433.7 304.1,435.9 303.8,436.9C303.5,437.9 303.2,439.2 302.5,439.7C301.8,440.2 299.6,440.6 298.7,441C297.8,441.4 296.4,442.7 295.6,442.9C294.8,443.1 293.3,442.1 292.5,442.2C291.7,442.3 289.7,443 289.4,443.5C289.1,444 290.5,445.3 290.6,446C290.7,446.7 290.3,448.4 290,449.1C289.7,449.8 288,451.1 288.1,451.6C288.2,452.1 289.9,452.6 290.6,452.9C291.3,453.2 293,454.3 293.7,454.1C294.4,453.9 295.5,452.3 296.2,451.6C296.9,450.9 297.9,449.6 298.7,449.1C299.5,448.6 301.9,448.4 302.5,447.9C303.1,447.4 302.6,446 303.1,445.4C303.6,444.8 305.5,444.1 306.2,443.5C306.9,442.9 307.5,441.6 308,441C308.5,440.4 308.8,439.5 309.6,439.3C310.4,439.1 312.5,439.3 313.8,439.2C315.1,439.1 318.3,438.8 319.7,438.7C321.1,438.6 323.5,438.6 324.4,438.4C325.3,438.2 326,437.2 326.8,436.9C327.6,436.6 329.5,436.6 330.4,436.3C331.3,436 333,434.8 333.9,434.5C334.8,434.2 336.2,434.5 336.8,434.2C337.4,433.9 338.1,432.5 338.6,431.9C339.1,431.3 340,430.1 340.4,429.5C340.8,428.9 341.1,428.1 341.6,427.7C342.1,427.3 343.7,426.7 344.5,426.5C345.3,426.3 346.9,426.1 347.5,426.2C348.1,426.3 348.7,427.2 349.3,427.2C349.9,427.2 351.2,426.7 351.9,426.3C352.6,425.9 354.1,424.8 354.9,424.3C355.7,423.8 357.1,423.1 357.9,422.5C358.7,421.9 360,420.7 360.8,420.1C361.6,419.5 363.1,418.5 363.8,417.8C364.5,417.1 365.9,415.7 366.4,414.8C366.9,413.9 367.5,411.9 367.9,410.7C368.3,409.5 368.9,407.1 369.1,405.9C369.3,404.7 369.3,402.7 369.7,401.8C370.1,400.9 371.4,400.1 372,399.5C372.6,398.9 373.7,398.2 374.3,397.5C374.9,396.8 375.7,395.3 376.2,394.4C376.7,393.5 377.8,391.6 378.1,390.6C378.4,389.6 378.5,387.9 378.1,386.9C377.7,385.9 375.8,384.1 375,383.1C374.2,382.1 372.7,380.2 371.9,379.4C371.1,378.6 369.6,377.5 368.7,376.9C367.8,376.3 366.2,375.2 365,375C363.8,374.8 361.3,374.8 360,375.2C358.7,375.6 356.3,377.1 355,377.8Z" fill="#a6ff00"/>
<path d="M373.5,382C374,381.8 375.8,383.3 376.5,384C377.2,384.7 378.3,386.6 378.5,387.5C378.7,388.4 378.4,390.3 378,391C377.6,391.7 376.1,393.1 375.5,392.8C374.9,392.5 374.1,390 373.8,389C373.5,388 373,386.4 373,385.5C373,384.6 373,382.2 373.5,382Z" fill="#a6ff00"/>
<path d="M172.6,461.3C172.8,460.9 173.9,460.4 174.2,460.6C174.5,460.8 175,462.3 174.9,462.8C174.8,463.3 173.9,464.5 173.6,464.6C173.3,464.7 172.5,463.8 172.4,463.4C172.3,463 172.4,461.7 172.6,461.3Z" fill="#33ff00"/>
<path d="M304.8,479.5C305.6,478.5 309.2,477.9 310,478.8C310.8,479.7 311.8,485 311,486C310.2,487 304.8,486.9 304,486C303.2,485.1 304,480.5 304.8,479.5Z" fill="#a6ff00"/>
<path d="M280.1,450.4C280.3,450.2 281.4,450 281.6,450.2C281.8,450.4 281.7,451.4 281.5,451.6C281.3,451.8 280.4,451.9 280.2,451.7C280,451.5 279.9,450.6 280.1,450.4Z" fill="#a6ff00"/>
<path d="M294.5,457C294.7,456.8 295.8,456.4 296,456.6C296.2,456.8 296.2,458 296,458.2C295.8,458.4 294.8,458.6 294.6,458.4C294.4,458.2 294.3,457.2 294.5,457Z" fill="#a6ff00"/>
<path d="M296.2,460.8C296.5,460.5 298,460.2 298.2,460.4C298.4,460.6 298.3,461.9 298,462.2C297.7,462.5 296.5,462.6 296.3,462.4C296.1,462.2 295.9,461.1 296.2,460.8Z" fill="#a6ff00"/>
<path d="M243.7,437C243.7,435.8 244.9,433.8 246.2,433C247.4,432.2 249.5,432.1 251.2,432.5C252.9,432.9 255.1,434.5 256.2,435.5C257.2,436.5 258.1,437.9 257.5,438.7C256.9,439.5 254.4,440.3 252.5,440.5C250.6,440.7 247.7,440.6 246.2,440C244.7,439.4 243.7,438.2 243.7,437Z" fill="#33ff00"/>
<path d="M301.9,423C301.7,422.6 302.1,421.2 302.5,420.6C302.9,420 304,419.1 305,418.7C306,418.3 308.7,417.8 310,417.5C311.3,417.2 314,416.8 315,416.2C316,415.6 316.8,413.9 317.5,413.1C318.2,412.3 319.2,410.7 320,410C320.8,409.3 322.7,408.5 323.7,408.1C324.7,407.7 326.5,407.4 327.5,406.9C328.5,406.4 330.2,405.1 331.2,404.4C332.2,403.7 333.8,402.4 335,401.9C336.2,401.4 338.5,400.5 340,400.3C341.5,400.1 344.7,400.1 346,400.2C347.3,400.3 349.2,401.3 350,401C350.8,400.7 351.9,398.7 352.3,398C352.7,397.3 353.2,396.1 353.2,395.4C353.2,394.7 352.3,393.4 352.1,392.8C351.9,392.2 351.7,391.6 351.7,391C351.7,390.4 351.8,389 352.1,388.3C352.4,387.6 353.2,386.3 353.9,386.1C354.6,385.9 356.3,386.2 357,386.6C357.7,387 358.4,389.1 358.8,389.2C359.2,389.3 359.9,387.9 360.1,387.4C360.3,386.9 360.1,386 360.6,385.7C361.1,385.4 363.2,385.1 364.1,385.2C365,385.3 367,385.6 367.7,386.1C368.4,386.6 368.8,388.3 369,389.2C369.2,390.1 369.5,391.9 369.4,392.8C369.3,393.7 368.9,395.5 368.6,396.3C368.3,397.1 367.8,397.5 367.5,398.5C367.2,399.5 366.4,402.4 366.1,403.6C365.8,404.8 365.7,406.6 365.6,407.7C365.5,408.8 365.3,410.9 365,411.9C364.7,412.9 363.8,414.6 363.2,415.4C362.6,416.2 361,417.3 360.2,417.8C359.4,418.3 358,418.6 357.3,419C356.6,419.4 355.6,420.3 354.9,420.7C354.2,421.1 352.8,422 351.9,422.2C351,422.4 349.1,422.4 348.1,422.5C347.1,422.6 345.4,422.6 344.5,423C343.6,423.4 342.3,424.7 341.6,425.3C340.9,425.9 339.8,427 339.2,427.7C338.6,428.4 337.9,430 337.4,430.7C336.9,431.4 336.2,432.5 335.6,432.7C335,432.9 333.6,432.3 332.7,432.5C331.8,432.7 330.1,433.7 329.2,433.9C328.3,434.1 326.7,433.7 325.6,433.9C324.5,434.1 322.1,434.7 320.9,435.1C319.7,435.5 317.6,437 316.7,436.9C315.8,436.8 314.7,434.9 313.8,434.5C312.9,434.1 310.4,434.3 309.6,433.9C308.8,433.5 308,432.1 307.5,431.2C307,430.3 306.1,428.5 305.6,427.5C305.1,426.5 304.2,424.3 303.7,423.7C303.2,423.1 302.1,423.4 301.9,423Z" fill="#33ff00"/>
<path d="M320,423.7C320,422.6 320.6,421.5 321.2,420.6C321.8,419.7 322.6,418.8 323.7,418.1C324.8,417.4 326.2,416.6 327.5,416.2C328.8,415.8 329.9,415.5 331.2,415.6C332.4,415.7 333.9,416.3 335,416.9C336.1,417.5 337.5,418.5 338.1,419.4C338.7,420.3 338.9,421.5 338.7,422.5C338.5,423.5 337.7,424.7 336.9,425.6C336.1,426.5 334.8,427.3 333.7,428.1C332.6,428.9 331.1,430.1 330,430.6C328.9,431.1 327.8,431.2 326.9,431C326,430.8 325.3,430.1 324.4,429.4C323.4,428.7 321.9,427.8 321.2,426.9C320.5,425.9 320,424.8 320,423.7Z" fill="#00e6a0"/>
<path d="M358.3,405.7C358.6,405.4 359.6,404.8 360.1,404.8C360.6,404.8 361.6,405.3 361.9,405.7C362.2,406.1 362.4,407.3 362.3,407.9C362.2,408.5 361.7,409.5 361.4,410.1C361.1,410.7 360.4,411.8 360.1,412.3C359.8,412.8 359.1,413.8 358.8,413.7C358.5,413.6 358.1,412.5 358.1,411.9C358.1,411.3 358.6,409.9 358.6,409.2C358.6,408.5 358.1,407.5 358.1,407C358.1,406.5 358,406 358.3,405.7Z" fill="#00e6a0"/>
<path d="M327.5,424.4C327.6,423.7 328.1,422.6 328.7,421.9C329.3,421.2 330.4,420.4 331.2,420.2C332,420 333.2,420.1 333.7,420.6C334.2,421.1 334.5,422.3 334.4,423.1C334.3,423.9 333.7,425 333.1,425.6C332.5,426.2 331.4,426.8 330.6,426.9C329.8,427 328.6,426.6 328.1,426.2C327.6,425.8 327.4,425.1 327.5,424.4Z" fill="#00a6ff"/>
</g>
<g fill="#fff" stroke="#4a3a10" stroke-width="0.7">
<path d="M261.2,461 261.9,457.9 258.7,456.8 255.6,457.5 253.5,456.5 256.2,455.5 261.9,455.4 265,452.2 268.7,449.7 270.6,452.9 273.1,456 273.1,459.1 271.2,461.6 268.7,463.5 265.6,464.1 263.1,462.9Z"/>
<path d="M276.2,461.6 278.7,460.4 282.5,460.4 285,462.2 284.4,465.4 281.9,466 281.2,467.9 278.1,467.2 276.2,464.7Z"/>
<path d="M303.3,473.5 306,472.8 309.4,472.5 310,474.3 309.4,477.6 306.5,478 304.3,476.5Z"/>
<path d="M278.5,462.6 281.5,462 283.3,463.3 282.5,464.8 279.5,464.9Z" fill="#ffa600"/>
</g>
<g stroke="#606060" stroke-width="0.7" fill="#fff">
<path d="M41.9,395 43.7,393.5 48.7,392.5 53.7,391.2 58.7,390 63.7,389 68.1,388.1 70.6,389 69.4,391 71.2,392.5 75,393.1 77.5,394.4 79.4,392.7 82.5,393.1 84.4,395 82.5,397.2 79.4,396.9 76.9,395.6 73.7,396.2 71.2,397.7 70,399.7 67.5,401.2 65,401 63.1,398.7 58.7,400 53.7,400.6 47.5,401 43.7,399.4 42.5,397.5Z"/>
<path d="M41.9,395 43.7,393.5 48.7,392.5 53.7,391.2 58.7,390 63.7,389 68.1,388.1 70,389.4 66.9,391.9 65,394.4 63.7,396.9 63.1,398.7 58.7,400 53.7,400.6 47.5,401 43.7,399.4 42.5,397.5Z" fill="#ffbf5f" stroke="#4a3a10"/>
<path d="M77.5,394.4 79.4,392.7 82.5,393.1 84.4,395 82.5,397.2 79.4,396.9Z" fill="#ffbf5f" stroke="#4a3a10"/>
<path d="M489.2,97.4 492.3,94.8 493.7,96.1 493.7,100.1 495.9,102.8 494.1,107.2 491.9,112.6 489.7,117.9 488.3,122.3 487.9,126.3 486.6,124.1 485.7,120.6 486.1,116.1 487.4,112.6 486.1,109 488.3,106.3 491.4,103.2 492.8,100.6 491,99.2Z"/>
<path d="M431.9,61.9 435,61.2 438.1,62.5 439.4,65.6 440,68.7 438.7,70.6 436.2,68.1 434.4,65 432.5,63.1Z"/>
<path d="M498.7,168.1 500.6,168.7 500,172.5 498.1,176.2 496.9,175 497.5,171.2Z"/>
<path d="M496.2,158.1 498.7,158.1 498.1,162.5 498.7,166.2 497.3,166 496.8,162Z"/>
<path d="M29.4,371 30.5,371.3 32.7,374.4 31.5,374Z"/>
</g>
<circle cx="476.2" cy="128.7" r="1.5" fill="#ffa600" stroke="#4a3a10" stroke-width="0.6"/>
<circle cx="414.4" cy="386.6" r="1.5" fill="#ffa600" stroke="#4a3a10" stroke-width="0.6"/>
<circle cx="361.3" cy="393.9" r="1" fill="#ffff00" stroke="#4a3a10" stroke-width="0.5"/>
<path d="M-3,336.5 1.2,338.5 3.1,340 3.7,342.5 5.6,345.6 7.5,350 8.7,353.7 10,357.5 10.6,360.6 9.4,361.9 7.5,360 5,358.7 3.7,361.2 6.2,360.6 8.7,363.7 10.6,363.1 12.5,362.5 13.7,364.4 15.6,368.1 17.5,371.2 20,369.4 22.5,368.1 24.4,370.6 26.9,372.5 26.2,369.4 26.9,366.2 24.4,367.5 23.1,366.9 25,363.1 26.9,360 30,358.7 31.2,356.2 33.7,353.1 36.9,350 40,346.9 43.7,344.4 47.5,341.9 51.2,340 55,338.1 59.4,336.9 61.2,334.4 62.5,331.9 64.4,328.1 66.2,324.4 68.1,321.2 71.2,318.7 73.5,316 74.6,312 74.9,308.5 74.7,306.2 75.8,306.6 77.5,310 78.1,314.4 80,318.1 82.5,321.2 84.4,324.4 86.2,326.9 84.4,328.7 81.9,326.9 79.4,325.6 76.9,326.2 78.1,328.7 79.4,332.5 78.7,335 75.6,336.9 73.1,339.4 71.2,341.9 69.4,345.6 68.1,348.7 67.5,352.5 66.9,356.9 66,358.1 67.2,360 67.7,365 66.9,368.1 64.4,370 60,370.4 55,370.4 53.5,371.9 52.5,375.6 50.6,378.1 49.7,379.7 52.5,380.2 56.2,379 60,377.5 63.7,376.2 68.1,375.6 71.9,376.9 73.7,376.2 75,373.1 75.6,370 76.9,366.9 77.5,363.1 78.1,359.4 79.4,356.9 81,354.4 82.5,351.9 83.7,350 85.6,352.5 87.5,355.6 89.4,358.7 91.2,361.2 93.1,364.4 94,367.5 93.7,371.2 94,375 93.7,378.7 93.1,381.9 91.9,383.1 90,383.7 87.5,385.6 85,387.2 83.7,388.7 85.6,390 90,390.2 94.4,390 96.9,388.7 98.1,386.9 98.7,385.6 105,388.1 111.2,391.9 117.5,396.2 122.5,401.2 126.2,406.5 129,411.5 131.2,417.5 128.7,423.7 127,426.2 130,430 131.2,436.2 137.5,442.5 143.7,447.5 148.7,452.5 155,455 162.5,456.2 168.7,458.7 172.5,462.5 175,465 177.5,461.2 182.5,460.5 188.7,462.5 196.2,463.7 205,466.2 212.5,468.7 218.7,471.2 225,474.5 230,477 231.6,477 233.9,475.9 236.9,472.9 239.9,471.1 242.2,468.1 245.8,466.4 249.3,464.9 252.3,463.4 254.1,461.8 255.3,461.5 257.6,461.8 260.6,460.7 261.4,461.9 263.1,462.9 265.6,464.1 266.9,466 269.4,467.2 272.5,465.4 275.6,464.1 276.2,464.7 278.1,467.2 281.2,467.9 285,469.1 286.9,471.6 291.2,471.6 293.7,474.7 295.6,477.9 298.7,476 302.5,476.6 304.4,478.5 305,480.4 307.5,484.1 309.4,481.6 309.4,478.5 310,474.1 309.4,472.2 315,471.6 320,470 325,468.5 332.5,463 340,457.5 347.5,453.1 355,449.7 360,448.7 366.2,448.4 372.5,448.1 380,448.1 386.2,447.7 392.5,446.2 396.2,443.7 398.7,441.2 403.7,440.6 404.4,437.5 406.2,433.1 403.1,429.4 402.5,425 404.4,420 406.9,412.5 408,406 409.4,397.5 411.2,392.5 413.7,388.1 416.2,384.4 418.7,380 423.1,375.6 426.9,373.7 426.2,370 428.7,365 430,357 431.9,352.5 435,349.4 436.9,346.9 436.2,345 438.1,343.7 439,342 440,341.2 439.2,339.5 440.6,337.5 438.1,335.6 436.9,333.1 440,334.4 441.9,333.7 445,328.7 448.1,323.7 451.2,318.7 454.4,315 458.7,313.1 460.5,312.5 458.8,311 460,309.8 462.5,310.2 463.5,312 464.4,309.4 468.1,306.9 473.1,303.7 474.4,299.4 473.1,295 474.8,292 476.2,290 480,284.7 483.7,276 486.2,268.5 487.5,262.2 486.2,256 488.7,248.5 492.5,238.5 495,228.5 497.5,218.5 500,211 502.5,206.2 503.1,201.2 501.9,196.2 501.2,191.2 500,188.1 498.1,184.4 496.9,180 495.6,176.2 494.4,172.5 491.9,168.7 488.7,165 487.5,161.2 490.6,158.7 488.1,155 490,150 490,147.5 489.2,142.5 490,135 489,131 487.9,129.4 487,126.8 485.2,124.1 483.4,120.6 482.1,117.9 483.9,115.7 483.4,112.6 481.7,110.3 477.2,109.4 474.1,105.9 472.8,101.9 471.4,97.9 468.3,95.2 463.9,93.4 459.9,89.9 459,85.5 456.2,81.2 453.7,79.4 451.9,76.2 448.7,75.6 446.9,78.1 444.4,77.5 441.9,74.4 438.7,71.2 436.2,69.4 433.7,66.2 431.9,63.7 428.7,65 425.6,62.5 427.5,60 426.2,56.2 426.9,53.1 425.6,49" fill="none" stroke="#606060" stroke-width="0.8" stroke-linejoin="round"/>
<g fill="none" stroke="#747474" stroke-width="1" stroke-dasharray="22 5.5 5.5 4.5">
<path d="M0,129.4H81" stroke-dashoffset="27.5"/>
<path d="M81,129.4H162" stroke-dashoffset="27.5"/>
<path d="M81.3,129.4V49.5" stroke-dashoffset="27.5"/>
<path d="M162,129.4V211" stroke-dashoffset="33"/>
<path d="M162,211V346.5" stroke-dashoffset="27"/>
<path d="M161.3,346.5V456" stroke-dashoffset="16.5"/>
<path d="M162,211H377.5" stroke-dashoffset="27"/>
</g>
<g fill="none" stroke="#808080" stroke-width="0.9" stroke-dasharray="11 4">
<path d="M377.5,211C378.5,209.9 381.4,206.6 383.7,204.7C386,202.8 388.5,200.4 391.2,199.7C393.9,199 396.9,200.7 400,200.5C403.1,200.3 407.1,198.3 410,198.5C412.9,198.7 414.8,201.1 417.5,201.7C420.2,202.3 423.5,201.5 426.2,202.2C428.9,202.9 431.4,204.5 433.7,206C436,207.5 438.5,209.6 440,211C441.5,212.4 441.2,214.9 442.5,214.7C443.8,214.5 445.8,210.8 447.5,209.7C449.2,208.6 450.6,208.1 452.5,208C454.4,207.9 457.7,208.8 458.7,209"/>
<path d="M472.5,190.6C472.9,190.9 473.6,192 475,192.5C476.4,193 479.3,193.3 481.2,193.5C483.1,193.7 484.6,193.7 486.2,193.5C487.8,193.3 489.2,193 490.6,192.5C492,192 492.8,191.3 494.4,190.6C496,189.9 499.1,188.5 500,188.1" stroke-dasharray="9 5"/>
<path d="M378.1,430 403.7,440.3"/>
</g>
<path d="M162.5,346.5C163.1,346.6 164.3,346.5 166,347C167.7,347.5 170.2,349 172.5,349.3C174.8,349.6 177.5,349.1 180,349C182.5,348.9 185,348.6 187.5,349C190,349.4 193,350.5 195,351.5C197,352.5 198.5,353.2 199.5,355C200.5,356.8 200.3,360.2 201.2,362C202.1,363.8 203.3,365.3 205,365.7C206.7,366.1 208.7,364.7 211.2,364.5C213.7,364.3 217.8,364.1 220,364.5C222.2,364.9 223.7,365.8 224.5,367C225.3,368.2 224.4,370.1 225,372C225.6,373.9 227,376.3 228,378.2C229,380.1 229.6,381.9 231.2,383.2C232.8,384.4 235.2,384.6 237.5,385.7C239.8,386.8 242.7,388 245,389.5C247.3,391 249.8,393.1 251.2,394.5C252.6,395.9 251.8,397 253.7,398.2C255.6,399.4 260.2,401.5 262.5,401.5C264.8,401.5 265.4,399.3 267.5,398.2C269.6,397.1 272.1,395.5 275,395C277.9,394.5 281.9,394.7 285,395C288.1,395.3 291.6,396.1 293.7,397C295.8,397.9 295.6,400.2 297.5,400.7C299.4,401.2 302.3,400.1 305,400C307.7,399.9 310.8,399.7 313.7,400C316.6,400.3 319.8,401.9 322.5,402C325.2,402.1 327.1,401.1 330,400.7C332.9,400.3 337.3,399.8 340,399.5C342.7,399.2 344.3,398.8 346,399C347.7,399.2 348.9,400.2 350,401C351.1,401.8 351.8,402.9 352.5,404C353.2,405.1 353.8,406.9 354,407.5" fill="none" stroke="#111" stroke-width="0.7" stroke-dasharray="5 3 2 3"/>
<path d="M98.7,385.6 105,388.1 111.2,391.9 117.5,396.2 122.5,401.2 126.2,406.5 129,411.5 131.2,413.7 129,410.5 126.9,403.7 128.1,400 128.7,396.2 126.9,393.1 125,390.6 123.5,388.7 127.5,387.7 132.5,388.1 136.2,389.4 141.2,388.5 146.2,386.2 151.2,384.7 156.2,383.5 160.2,382.9 160.6,385.6 158.7,387.5 159.4,390 158.1,391.9 160,393.7 165,398.7 170,404.4 173.7,410 177.5,414.4 180,417.5 181.2,420 181.2,427.5 187.5,428.7 196.2,430 202.5,432 205,435.5 211.2,435.5 215.5,431.2 217.5,435 227.5,435.5 235,438.7 245,438 255,438 260,433.7 265,432.8 270,436.9 273.7,438.1 278.7,440 283.7,441.2 288.7,442.5 290.6,444.4 293.1,442.5 296.9,443.1 301.2,443.7 306.2,443.1 310,442.5 309.7,438.7 310,435.6 312.5,433.1 315,430.6 320,429 325,427.5 328.7,426.2 331.2,427.5 333.7,430.6 336.2,433.1 338.1,435 340,432.5 342.5,429.4 346.2,426.9 350,425 352.5,422.5 355,420.6 356.9,413.7 359.4,410 361.9,406.2 364.4,403.1 366.9,401.2 365.6,398.7 363.5,396.2 364.4,395 368.1,397.5 371.9,400.6 374.4,403.7 376.9,407.2" fill="none" stroke="#000" stroke-width="1.1" stroke-linejoin="round"/>
<path d="M376.9,407.2 379.4,409.4 381.9,411.2 385,413.1 388.1,414.7 390.6,413.7 391.9,411.2 391.2,408.7 390.6,405.6" fill="none" stroke="#222" stroke-width="0.7" stroke-linejoin="round"/>
<path d="M390.6,405.6 392.5,403.7 394.4,400.6 392.5,397.5 392.2,392.5 391.9,387.5 393.1,381.2 393.1,375 394.4,370 392.5,366.2 390,362 393.7,358.2 400,354.5 403.7,349.5 400.5,345.7 402.5,342 406.2,337 404.5,330.7 407,327 405,324.5 403.7,319 407.5,316.5 414.5,315.7 413.7,313.2 406.2,310.7 400,305.7 397,299.5 398.7,294.5 402,292 403.7,289 407.5,286 415,288 423.7,287.2 430,283 436.2,281 442.5,277.2 448.7,274 449.5,269.7 446.2,266 443.7,261 446.2,254.7 447.5,248.5 450,243.5 450.5,237.2 453.7,233 457.5,228.5 461.2,222.2 462,216 460,209.7 460,203.5 458.7,198.5 465,194.7 472,191 471.2,187.5 469.4,183.1 465,181.2 460.6,177.5 458.1,173.1 458.1,168.7 461.2,166.2 458.1,164.4 453.7,160.6 452.5,157.5 447.5,152.5 442.5,146.2 437.5,141.2 434.5,136.2 430,134.5 426.2,135.7 420,136.2 415,134.5 411.2,133.7 410,137.5 406.2,140.7 400,140.7 390,138.2 380,137.5 372.5,135 368.7,131.2 362.5,130.5 358,129.5 359.5,123.7 361.2,117.5 361.2,111.2 357.5,106.2 352.5,102.5 348.7,98 344.5,95.5 340,98.2 332.5,100 328.7,102.5 324.5,103.7 322,98.7 321.7,93.7 320,92 316.2,95 313,98.7 310,103 303.7,102.5 300,101.2 295,100 288.7,104.5 284.5,109.5 283,115 278.7,117.5 274.5,121.2 273,127.5 272,135 267,138.7 265.7,147.5 262,152 261.2,157.5 257.5,165 257.5,172.2 258.7,177.2 258,182.2 259.5,188.5 253.7,190.5 247.5,191.5 243.7,189.7 242.5,193 243.7,199.7 244.5,206 245,212.2 244.2,218.5 240,223.5 236.2,227.2 233,231.5 232.5,238.5 230,243.5 226.2,248 222.5,251 222,256 217.5,261 211.2,260.5 207,260.5 205,266 200,271.5 195,269 190,272.2 183.7,276 178.7,278 176.2,282.2 172.5,288.5 170,292 168.7,292.8 166,295.5 162.5,298 157.5,299.5 150,298.7 145,297.5 140,296.5 135,298.5 130,301 125,302.5 120,302.3 116.2,303.7 113.1,307.5 111.9,312.5 110,315.6 106.2,318.1 103.7,320.6 103.7,323.7 101.2,325 100.2,326.9 101.9,328.7 104.4,326.9 105.6,328.1 105,330 107.5,331.2 105.6,333.1 105,337.5 105.6,342.5 107.5,347.5 109.4,353 111.2,353.7 112.2,357.5 111.2,360.6 109.4,363.1 110,366.2 108.7,369.4 106.2,373.1 103.1,376.2 100,378.7 97.5,380.6 96.9,383.1 98.7,385.6 98.7,385.6" fill="none" stroke="#000" stroke-width="1.1" stroke-linejoin="round"/>
<path d="M119.5,397.8 122.5,401.2 126.2,406.5 129,411.5 131.2,414" fill="none" stroke="#000" stroke-width="2" stroke-linejoin="round"/>
</g>
<rect x="0.5" y="49.5" width="679" height="445" fill="none" stroke="#6e6e6e" stroke-width="1"/>
<rect x="571" y="116" width="27" height="25.2" fill="#ff4090" stroke="#666" stroke-width="0.7"/>
<rect x="571" y="141.2" width="27" height="25.2" fill="#ff00ff" stroke="#666" stroke-width="0.7"/>
<rect x="571" y="166.4" width="27" height="25.2" fill="#aa00ff" stroke="#666" stroke-width="0.7"/>
<rect x="571" y="191.6" width="27" height="25.2" fill="#4040ff" stroke="#666" stroke-width="0.7"/>
<rect x="571" y="216.8" width="27" height="25.2" fill="#00a6ff" stroke="#666" stroke-width="0.7"/>
<rect x="571" y="242" width="27" height="25.2" fill="#00e6a0" stroke="#666" stroke-width="0.7"/>
<rect x="571" y="267.2" width="27" height="25.2" fill="#33ff00" stroke="#666" stroke-width="0.7"/>
<rect x="571" y="292.4" width="27" height="25.2" fill="#a6ff00" stroke="#666" stroke-width="0.7"/>
<rect x="571" y="317.6" width="27" height="25.2" fill="#ffff00" stroke="#666" stroke-width="0.7"/>
<rect x="571" y="342.8" width="27" height="25.2" fill="#ffa600" stroke="#666" stroke-width="0.7"/>
<rect x="571" y="368" width="27" height="25.2" fill="#ffbf5f" stroke="#666" stroke-width="0.7"/>
<rect x="571" y="393.2" width="27" height="25.2" fill="#ffffff" stroke="#666" stroke-width="0.7"/>
</svg>
<div class="t" style="left:196px;top:-1.5px;font-size:12.03px;font-weight:400;-webkit-text-stroke:0.2px #000;">Murray-Darling Rainfall Totals (mm)</div>
<div class="t" style="left:402.5px;top:-1.5px;font-size:12.1px;font-weight:400;-webkit-text-stroke:0.2px #000;">10th April 2026</div>
<div class="t" style="left:266.5px;top:17.2px;font-size:9.8px;font-weight:400;-webkit-text-stroke:0.4px #000;">Australian Bureau of Meteorology</div>
<div class="t" style="left:555.4px;top:93.7px;font-size:9.7px;font-weight:400;-webkit-text-stroke:0.4px #000;">Rainfall (mm)</div>
<div class="t" style="left:604px;top:136.3px;font-size:9.75px;font-weight:400;-webkit-text-stroke:0.4px #000;">400 mm</div>
<div class="t" style="left:604px;top:161.5px;font-size:9.75px;font-weight:400;-webkit-text-stroke:0.4px #000;">300 mm</div>
<div class="t" style="left:604px;top:186.7px;font-size:9.75px;font-weight:400;-webkit-text-stroke:0.4px #000;">200 mm</div>
<div class="t" style="left:604px;top:211.9px;font-size:9.75px;font-weight:400;-webkit-text-stroke:0.4px #000;">150 mm</div>
<div class="t" style="left:604px;top:237.1px;font-size:9.75px;font-weight:400;-webkit-text-stroke:0.4px #000;">100 mm</div>
<div class="t" style="left:606.8px;top:262.3px;font-size:9.75px;font-weight:400;-webkit-text-stroke:0.4px #000;">50 mm</div>
<div class="t" style="left:606.8px;top:287.5px;font-size:9.75px;font-weight:400;-webkit-text-stroke:0.4px #000;">25 mm</div>
<div class="t" style="left:606.8px;top:312.7px;font-size:9.75px;font-weight:400;-webkit-text-stroke:0.4px #000;">15 mm</div>
<div class="t" style="left:606.8px;top:337.9px;font-size:9.75px;font-weight:400;-webkit-text-stroke:0.4px #000;">10 mm</div>
<div class="t" style="left:609.5px;top:363.1px;font-size:9.75px;font-weight:400;-webkit-text-stroke:0.4px #000;">5 mm</div>
<div class="t" style="left:609.5px;top:388.3px;font-size:9.75px;font-weight:400;-webkit-text-stroke:0.4px #000;">1 mm</div>
<div class="t" style="left:609.5px;top:413.5px;font-size:9.75px;font-weight:400;-webkit-text-stroke:0.4px #000;">0 mm</div>
<div class="t" style="left:4px;top:484.6px;font-size:7.77px;font-weight:400;-webkit-text-stroke:0.4px #000;">http://www.bom.gov.au</div>
<div class="t" style="left:0px;top:498.3px;font-size:7.66px;font-weight:400;-webkit-text-stroke:0.4px #000;">&copy; Commonwealth of Australia 2026, Bureau of Meteorology</div>
<div class="t" style="left:615.3px;top:498.3px;font-size:7.5px;font-weight:400;-webkit-text-stroke:0.4px #000;">Issued: 10/04/2026</div>
</div>
</body></html>
